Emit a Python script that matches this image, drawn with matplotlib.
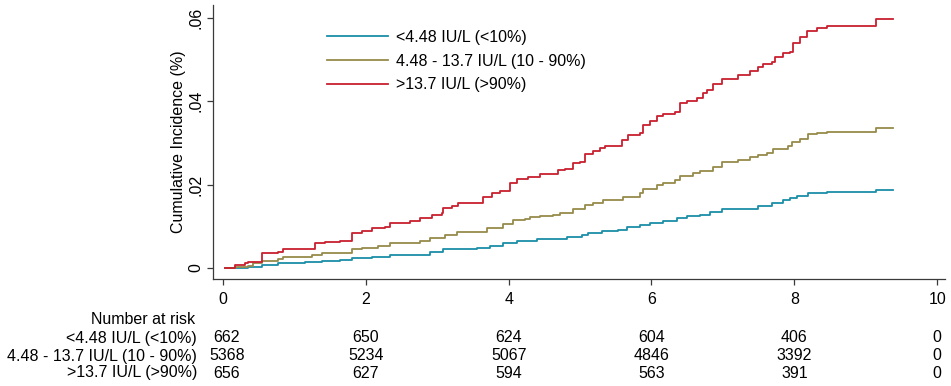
import matplotlib
matplotlib.use("Agg")
import matplotlib.pyplot as plt
from matplotlib.transforms import blended_transform_factory, offset_copy

plt.rcParams["font.family"] = ["Liberation Sans", "DejaVu Sans"]

# Cumulative incidence step knots
t_low = [0.03, 0.35, 0.55, 0.77, 1.15, 1.39, 1.64, 1.81, 2.09, 2.34, 2.90, 3.08, 3.56,
         3.74, 3.92, 4.12, 4.40, 4.82, 5.03, 5.11, 5.31, 5.53, 5.66, 5.84, 5.98, 6.16,
         6.36, 6.50, 6.68, 6.82, 6.99, 7.49, 7.69, 7.84, 7.94, 8.04, 8.19, 8.46, 9.15, 9.38]
ci_low = [0, 0.0002, 0.0007, 0.0012, 0.0014, 0.0017, 0.0019, 0.0024, 0.0026, 0.0031,
          0.0038, 0.0046, 0.0048, 0.0053, 0.0060, 0.0065, 0.0070, 0.0074, 0.0079, 0.0084,
          0.0089, 0.0091, 0.0098, 0.0103, 0.0108, 0.0113, 0.0120, 0.0125, 0.0127, 0.0134,
          0.0142, 0.0149, 0.0156, 0.0163, 0.0168, 0.0173, 0.0180, 0.0182, 0.0187, 0.0187]

t_mid = [0.03, 0.17, 0.35, 0.42, 0.55, 0.77, 0.84, 1.25, 1.39, 1.81, 1.95, 2.17, 2.34,
         2.76, 2.90, 3.11, 3.28, 3.70, 3.92, 4.06, 4.23, 4.30, 4.44, 4.62, 4.72, 4.90,
         5.07, 5.18, 5.32, 5.60, 5.84, 5.88, 6.08, 6.16, 6.33, 6.40, 6.58, 6.68, 6.86,
         6.99, 7.21, 7.38, 7.49, 7.62, 7.70, 7.91, 7.97, 8.08, 8.19, 8.32, 8.46, 9.15, 9.38]
ci_mid = [0, 0.0002, 0.0005, 0.0012, 0.0017, 0.0022, 0.0026, 0.0031, 0.0036, 0.0046,
          0.0048, 0.0053, 0.0060, 0.0065, 0.0072, 0.0079, 0.0086, 0.0096, 0.0106, 0.0115,
          0.0118, 0.0122, 0.0125, 0.0127, 0.0132, 0.0142, 0.0151, 0.0156, 0.0163, 0.0170,
          0.0180, 0.0190, 0.0199, 0.0204, 0.0211, 0.0221, 0.0228, 0.0233, 0.0242, 0.0254,
          0.0259, 0.0266, 0.0271, 0.0276, 0.0286, 0.0293, 0.0302, 0.0310, 0.0322, 0.0324,
          0.0326, 0.0336, 0.0336]

t_high = [0.03, 0.17, 0.31, 0.35, 0.55, 0.77, 0.84, 1.29, 1.43, 1.64, 1.81, 1.95, 2.09,
          2.27, 2.34, 2.62, 2.76, 2.93, 3.07, 3.08, 3.21, 3.29, 3.64, 3.77, 3.88, 4.02,
          4.12, 4.27, 4.44, 4.69, 4.79, 4.90, 5.00, 5.07, 5.18, 5.28, 5.35, 5.59, 5.67,
          5.84, 5.88, 5.98, 6.08, 6.16, 6.33, 6.40, 6.50, 6.64, 6.72, 6.78, 6.86, 6.99,
          7.21, 7.38, 7.49, 7.56, 7.69, 7.73, 7.84, 7.94, 7.98, 8.08, 8.18, 8.32, 8.46,
          9.15, 9.38]
ci_high = [0, 0.0007, 0.0012, 0.0014, 0.0036, 0.0038, 0.0046, 0.0060, 0.0062, 0.0065,
           0.0084, 0.0089, 0.0096, 0.0098, 0.0108, 0.0113, 0.0120, 0.0127, 0.0132, 0.0144,
           0.0149, 0.0156, 0.0170, 0.0180, 0.0185, 0.0204, 0.0214, 0.0218, 0.0226, 0.0235,
           0.0238, 0.0252, 0.0254, 0.0274, 0.0281, 0.0288, 0.0293, 0.0307, 0.0319, 0.0324,
           0.0343, 0.0353, 0.0365, 0.0370, 0.0374, 0.0396, 0.0401, 0.0408, 0.0420, 0.0427,
           0.0442, 0.0454, 0.0463, 0.0473, 0.0482, 0.0490, 0.0494, 0.0506, 0.0516, 0.0518,
           0.0540, 0.0554, 0.0569, 0.0576, 0.0581, 0.0598, 0.0598]

groups = ["<4.48 IU/L (<10%)", "4.48 - 13.7 IU/L (10 - 90%)", ">13.7 IU/L (>90%)"]
colors = ["#1b8fa7", "#968b4b", "#c8202f"]

risk_times = [0, 2, 4, 6, 8, 10]
risk_low = [662, 650, 624, 604, 406, 0]
risk_mid = [5368, 5234, 5067, 4846, 3392, 0]
risk_high = [656, 627, 594, 563, 391, 0]

FS = 11.5
W, H = 951, 386
fig = plt.figure(figsize=(W / 100, H / 100), dpi=100)
ax = fig.add_axes([213 / W, 1 - 279 / H, (945 - 213) / W, (279 - 5) / H])

series = [(t_low, ci_low), (t_mid, ci_mid), (t_high, ci_high)]
for (t, ci), lab, col in zip(series, groups, colors):
    ax.step(t, ci, where="post", color=col, lw=1.3, label=lab)

ax.set_xlim(-0.14, 10.11)
ax.set_ylim(-0.00264, 0.0631)
ax.set_xticks(risk_times)
ax.set_yticks([0, 0.02, 0.04, 0.06])
ax.set_yticklabels(["0", ".02", ".04", ".06"], rotation=90, va="center")
ax.set_ylabel("Cumulative Incidence (%)", fontsize=FS, labelpad=1.5)

for side in ["top", "right"]:
    ax.spines[side].set_visible(False)
for side in ["left", "bottom"]:
    ax.spines[side].set_color("#3a3a3a")
    ax.spines[side].set_linewidth(0.9)
ax.tick_params(axis="both", direction="out", length=4, width=0.9, color="#3a3a3a",
               labelsize=FS, pad=3)
ax.tick_params(axis="x", pad=5)

ax.legend(loc="upper left", bbox_to_anchor=(327 / W, 1 - 30 / H),
          bbox_transform=fig.transFigure, frameon=False, fontsize=FS,
          handlelength=3.8, handletextpad=0.55, labelspacing=0.54,
          borderpad=0, borderaxespad=0)

# Number at risk table
tr = blended_transform_factory(ax.transData, fig.transFigure)
tr_first = offset_copy(tr, fig=fig, x=4, y=0, units="dots")
fig.text(195 / W, 1 - 319 / H, "Number at risk", ha="right", va="center", fontsize=FS)
rows = [risk_low, risk_mid, risk_high]
row_y = [338, 356, 373]
for lab, vals, yp in zip(groups, rows, row_y):
    fig.text(197 / W, 1 - yp / H, lab, ha="right", va="center", fontsize=FS)
    for i, (tt, v) in enumerate(zip(risk_times, vals)):
        ax.text(tt, 1 - yp / H, str(v), transform=tr_first if i == 0 else tr,
                ha="center", va="center", fontsize=FS)

fig.savefig("out.png", dpi=100)
